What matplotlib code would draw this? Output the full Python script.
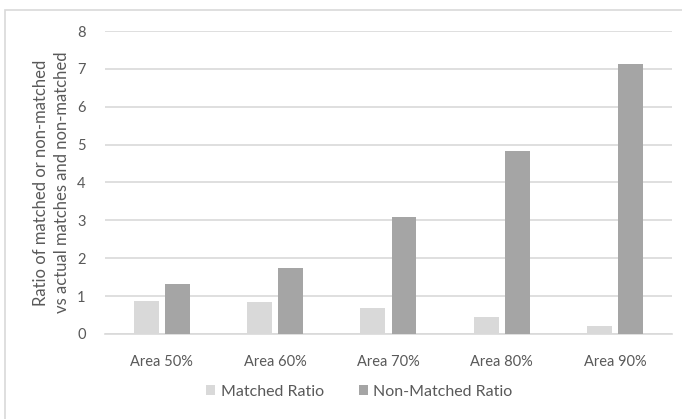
import numpy as np
import matplotlib
matplotlib.use("Agg")
import matplotlib.pyplot as plt
from matplotlib.patches import Rectangle

matplotlib.rcParams["font.family"] = ["Lato", "DejaVu Sans"]
matplotlib.rcParams["font.size"] = 10

categories = ["Area 50%", "Area 60%", "Area 70%", "Area 80%", "Area 90%"]
matched = [0.87, 0.84, 0.69, 0.46, 0.20]
non_matched = [1.33, 1.75, 3.10, 4.84, 7.14]
series_names = ["Matched Ratio", "Non-Matched Ratio"]
yticks = [0, 1, 2, 3, 4, 5, 6, 7, 8]

text_color = "#595959"
grid_color = "#D9D9D9"

fig = plt.figure(figsize=(6.82, 4.19), dpi=100)
ax = fig.add_axes([0.154, 0.203, 0.831, 0.723])

x = np.arange(len(categories))
w = 0.22
gap = 0.055
ax.bar(x - (w + gap) / 2, matched, w, color="#D9D9D9", label=series_names[0], zorder=3)
ax.bar(x + (w + gap) / 2, non_matched, w, color="#A5A5A5", label=series_names[1], zorder=3)

ax.set_xlim(-0.5, len(categories) - 0.5)
ax.set_ylim(0, 8)
ax.set_yticks(yticks)
ax.set_xticks(x)
ax.set_xticklabels(categories)
ax.yaxis.grid(True, color=grid_color, linewidth=1.2, zorder=0)
for s in ["top", "right", "left"]:
    ax.spines[s].set_visible(False)
ax.spines["bottom"].set_color(grid_color)
ax.spines["bottom"].set_linewidth(1.2)
ax.tick_params(axis="both", length=0, colors=text_color, labelsize=10.5)
ax.tick_params(axis="y", pad=14)
ax.tick_params(axis="x", pad=15)

ax.set_ylabel("Ratio of matched or non-matched\nvs actual matches and non-matched",
              color=text_color, fontsize=12, labelpad=5, linespacing=1.4)

leg = fig.legend(loc="center", bbox_to_anchor=(0.527, 0.065), ncol=2, frameon=False,
                 handlelength=0.55, handleheight=0.6, handletextpad=0.35, columnspacing=2.2,
                 fontsize=11.5)
for t in leg.get_texts():
    t.set_color(text_color)

# chart area border
fig.patches.append(Rectangle((0.007, -0.01), 1.0, 0.987, transform=fig.transFigure,
                             fill=False, edgecolor="#D9D9D9", linewidth=1.2))

fig.savefig("out.png", dpi=100)
